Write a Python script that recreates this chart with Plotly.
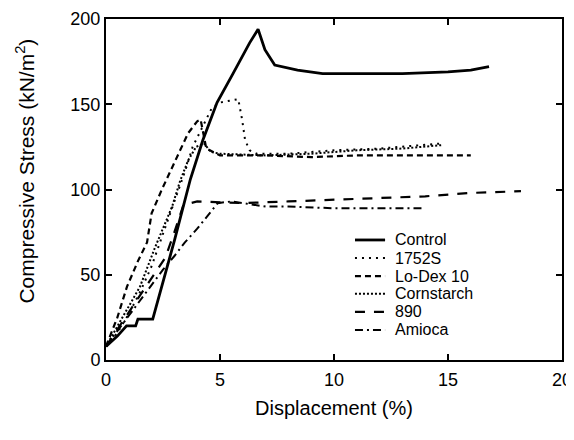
import plotly.graph_objects as go

# Control (solid)
control_x = [0, 0.5, 0.9, 1.3, 1.4, 2.05, 3.0, 3.7, 4.25, 4.87, 5.57, 6.3, 6.67, 6.97, 7.4, 8.4, 9.5, 11, 13, 15, 16, 16.8]
control_y = [8, 14, 20, 20, 24, 24, 70, 106, 129, 151, 168, 186, 194, 182, 173, 170, 168, 168, 168, 169, 170, 172]

# 1752S (dotted)
s1752_x = [0, 0.5, 1, 1.5, 2, 2.5, 3, 3.5, 3.8, 4.3, 4.65, 5.0, 5.5, 5.8, 5.97, 6.1, 6.3, 6.6, 7, 8, 10, 12, 14.7]
s1752_y = [8, 16, 27, 40, 55, 74, 94, 112, 125, 138, 148, 151, 152, 153, 141, 129, 123, 121, 121, 121, 123, 124, 127]

# Lo-Dex 10 (dashed)
lodex_x = [0, 0.5, 0.92, 1.4, 1.8, 2.0, 2.45, 3.03, 3.33, 3.6, 4.0, 4.15, 4.4, 5, 7, 9, 11, 13, 16]
lodex_y = [8, 25, 43, 58, 69, 86, 100, 117, 125, 133, 140, 141, 124, 120, 120, 119, 120, 120, 120]

# Cornstarch (fine dotted)
corn_x = [0, 0.5, 1, 1.49, 2.15, 2.9, 3.25, 3.6, 3.95, 4.3, 4.6, 5, 7, 9, 11, 13, 14.7]
corn_y = [8, 20, 32, 43, 66, 90, 105, 117, 125, 127, 122, 121, 120, 121, 123, 124, 126]

# 890 (long dash)
s890_x = [0, 0.5, 1, 1.5, 2, 2.6, 3.0, 3.4, 4, 6, 8, 10, 12, 14, 16, 18.2]
s890_y = [8, 18, 28, 38, 48, 60, 75, 91, 93, 92, 93, 94, 95, 96, 98, 99]

# Amioca (dash-dot)
amioca_x = [0, 0.5, 1, 1.5, 2, 2.5, 3, 3.46, 4.0, 4.56, 4.9, 5.5, 6, 7, 8, 10, 12, 14]
amioca_y = [8, 17, 26, 35, 44, 53, 61, 69, 77, 86, 92, 93, 92, 90, 90, 89, 89, 89]

x_ticks = [0, 5, 10, 15, 20]
y_ticks = [0, 50, 100, 150, 200]

series_names = ["Control", "1752S", "Lo-Dex 10", "Cornstarch", "890", "Amioca"]
series_x = [control_x, s1752_x, lodex_x, corn_x, s890_x, amioca_x]
series_y = [control_y, s1752_y, lodex_y, corn_y, s890_y, amioca_y]
series_dash = ["solid", "2px,5px", "6px,4px", "2px,2px", "10px,9px", "8px,4px,2px,4px"]
series_width = [2.8, 2.0, 2.2, 2.0, 2.2, 2.0]

fig = go.Figure()
for name, xs, ys, dash, w in zip(series_names, series_x, series_y, series_dash, series_width):
    fig.add_trace(go.Scatter(x=xs, y=ys, mode="lines", name=name, showlegend=False,
                             line=dict(color="black", width=w, dash=dash)))

font_family = "Liberation Sans, Arial, sans-serif"
axis_common = dict(
    showgrid=False, zeroline=False, showline=True, linecolor="black", linewidth=2,
    mirror="ticks", ticks="inside", ticklen=6, tickwidth=1.5, tickcolor="black",
    tickfont=dict(size=18, color="black", family=font_family), automargin=False,
)
fig.update_xaxes(range=[0, 20], tickvals=x_ticks, ticklabelstandoff=2,
                 title=dict(text="Displacement (%)", font=dict(size=20, color="black", family=font_family), standoff=12),
                 **axis_common)
fig.update_yaxes(range=[0, 200], tickvals=y_ticks, **axis_common)

# Y-axis title (placed as rotated text, slightly above the axis centre as in the reference)
fig.add_annotation(xref="paper", yref="paper", x=-0.178, y=0.555, text="Compressive Stress (kN/m<sup>2</sup>)",
                   textangle=-90, showarrow=False, xanchor="center", yanchor="middle",
                   font=dict(size=21, color="black", family=font_family))

# Manual legend (paper coordinates = plot area)
leg_line_x0, leg_line_x1, leg_text_x = 0.546, 0.612, 0.629
leg_rows = [0.352, 0.299, 0.246, 0.194, 0.141, 0.088]
for name, dash, w, yy in zip(series_names, series_dash, series_width, leg_rows):
    fig.add_shape(type="line", xref="paper", yref="paper", x0=leg_line_x0, x1=leg_line_x1, y0=yy, y1=yy,
                  line=dict(color="black", width=w, dash=dash))
    fig.add_annotation(xref="paper", yref="paper", x=leg_text_x, y=yy, text=name, showarrow=False,
                       xanchor="left", yanchor="middle",
                       font=dict(size=16, color="black", family=font_family))

# page body has an 8px margin; size/margins compensate so the plot lands where the reference has it
fig.update_layout(
    width=566, height=432,
    margin=dict(l=98, r=12, t=11, b=80),
    paper_bgcolor="white", plot_bgcolor="white",
    showlegend=False,
)

fig.write_html("out.html")
